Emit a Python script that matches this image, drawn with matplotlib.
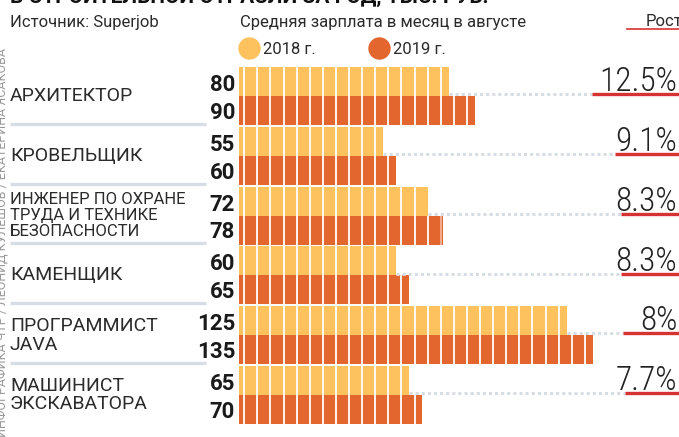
import matplotlib
matplotlib.use("Agg")
import matplotlib.pyplot as plt
from matplotlib import font_manager as fm

# data
jobs = ["АРХИТЕКТОР", "КРОВЕЛЬЩИК", "ИНЖЕНЕР ПО ОХРАНЕ\nТРУДА И ТЕХНИКЕ\nБЕЗОПАСНОСТИ",
        "КАМЕНЩИК", "ПРОГРАММИСТ\nJAVA", "МАШИНИСТ\nЭКСКАВАТОРА"]
pay_2018 = [80, 55, 72, 60, 125, 65]
pay_2019 = [90, 60, 78, 65, 135, 70]
growth = [12.5, 9.1, 8.3, 8.3, 8.0, 7.7]
growth_labels = ["12.5%", "9.1%", "8.3%", "8.3%", "8%", "7.7%"]

avail = {f.name for f in fm.fontManager.ttflist}
def pick(*names):
    for n in names:
        if n in avail:
            return n
    return "DejaVu Sans"

reg = pick("Roboto", "DejaVu Sans")
cond = pick("Roboto Condensed", "Liberation Sans Narrow", "Roboto")

c18 = "#fdc25e"
c19 = "#e4662f"
red = "#d63232"
grey = "#d6dde5"
txt = "#2b2b2b"

W, H = 679, 437
fig = plt.figure(figsize=(W / 100, H / 100), dpi=100)

x0 = 239          # px where bars start
pxu = 2.62        # px per thousand rub
pitch = 59.8      # px per group
top0 = 67         # px of first bar top
h = 29 / pitch    # bar height in group units

ax = fig.add_axes([x0 / W, 0, (W - x0) / W, 1])
xmax = (W - x0) / pxu
ax.set_xlim(0, xmax)
ax.set_ylim((H - top0) / pitch, -top0 / pitch)
ax.axis("off")

def axx(px):
    return (px - x0) / (W - x0)

for i in range(len(jobs)):
    y18 = i + h / 2
    y19 = i + 1.5 * h
    ax.barh(y18, pay_2018[i], height=h, color=c18, linewidth=0)
    ax.barh(y19, pay_2019[i], height=h, color=c19, linewidth=0)
    # white segment ticks every 5
    for yy, v in [(y18, pay_2018[i]), (y19, pay_2019[i])]:
        k = 2
        while k < v:
            ax.plot([k, k], [yy - h / 2, yy + h / 2], color="white", lw=1.3,
                    alpha=1.0 if v - k > 1 else 0.5, solid_capstyle="butt")
            k += 5
    # value labels
    ax.text(axx(235), y18 + 0.06, str(pay_2018[i]), transform=ax.get_yaxis_transform(),
            ha="right", va="center", fontsize=16, fontweight="bold", family=reg, color="#1a1a1a")
    ax.text(axx(235), y19 + 0.04, str(pay_2019[i]), transform=ax.get_yaxis_transform(),
            ha="right", va="center", fontsize=16, fontweight="bold", family=reg, color="#1a1a1a")
    # growth
    yb = i + h - 0.03
    rstart = xmax - growth[i] * 7.0 / pxu
    ax.plot([pay_2018[i], rstart], [yb, yb], color=grey, lw=2.2,
            dashes=(1.0, 1.0), solid_capstyle="butt")
    ax.plot([rstart, xmax], [yb, yb], color=red, lw=2.4, solid_capstyle="butt")
    ax.text(xmax - 0.7, yb - 0.05, growth_labels[i], ha="right", va="baseline",
            fontsize=24, family=cond, fontweight="light", color="#222222")
    # category labels
    small = jobs[i].count("\n") >= 2
    ax.text(axx(10), i + h, jobs[i], transform=ax.get_yaxis_transform(),
            ha="left", va="center", fontsize=12 if small else 14, family=reg,
            color=txt, linespacing=1.1 if small else 1.05)
    if i < len(jobs) - 1:
        ax.plot([axx(10), axx(206)], [i + 0.95, i + 0.95], transform=ax.get_yaxis_transform(),
                color=grey, lw=2.4, clip_on=False, solid_capstyle="butt")

# header
def fx(px):
    return px / W
def fy(py):
    return 1 - py / H

fig.text(fx(10), fy(3), "В СТРОИТЕЛЬНОЙ ОТРАСЛИ ЗА ГОД, ТЫС. РУБ.", ha="left", va="baseline",
         fontsize=15, fontweight="bold", family=reg, color="#111111")
fig.text(fx(10), fy(22), "Источник: Superjob", ha="left", va="center",
         fontsize=12, family=reg, color=txt)
fig.text(fx(240), fy(22), "Средняя зарплата в месяц в августе", ha="left", va="center",
         fontsize=12, family=reg, color=txt)
fig.text(fx(646), fy(22), "Рост", ha="left", va="center", fontsize=12, family=reg, color=txt)
ax.plot([axx(645), 1], [fy(29), fy(29)], transform=fig.transFigure, color=red, lw=1.2,
        clip_on=False)

# legend
for lx, col, lab in [(249, c18, "2018 г."), (379, c19, "2019 г.")]:
    ax.scatter([(lx - x0) / pxu], [(48 - top0) / pitch], s=260, color=col,
               linewidths=0, clip_on=False)
    fig.text(fx(lx + 14), fy(49), lab, ha="left", va="center", fontsize=12,
             family=reg, color=txt)

# vertical credit
fig.text(fx(2), 0, "ИНФОГРАФИКА ЧТР / ЛЕОНИД КУЛЕШОВ / ЕКАТЕРИНА ЯСАКОВА",
         rotation=90, ha="center", va="bottom", fontsize=9, family=reg, color="#999999")

fig.savefig("out.png", dpi=100)
